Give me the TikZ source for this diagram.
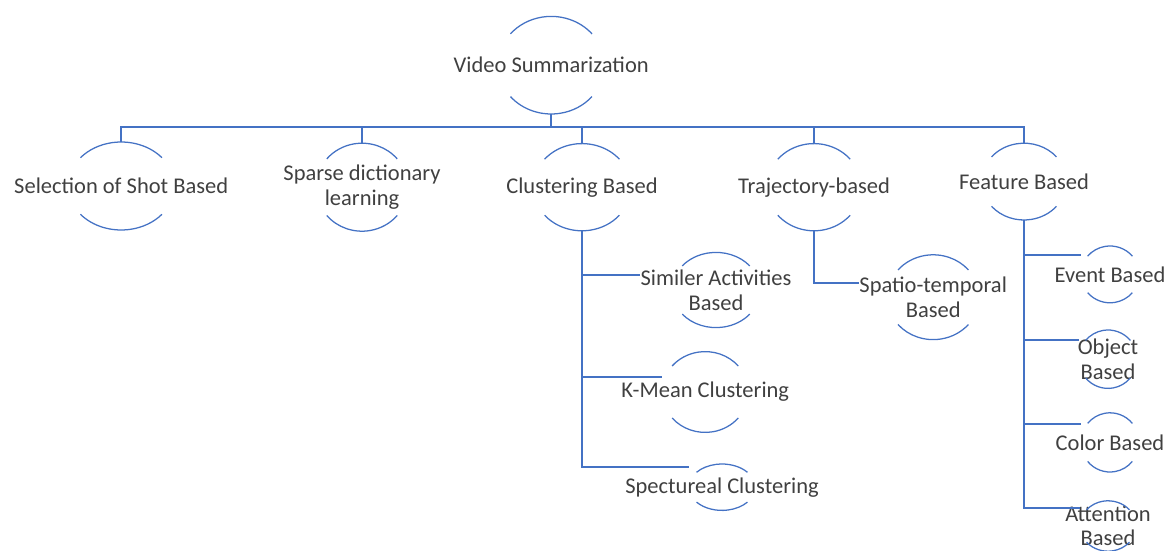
\documentclass[tikz,border=0pt]{standalone}
\usepackage{fontspec}
\setmainfont{Carlito}
\usepackage{xcolor}
\usepackage{tikz}
\usetikzlibrary{calc}
\definecolor{linkblue}{HTML}{4472C4}
\definecolor{txtgray}{HTML}{404040}

\begin{document}
\begin{tikzpicture}[font=\fontsize{16}{17.5}\selectfont,
  ring/.style 2 args={shape=rectangle, inner sep=0pt, outer sep=0pt, minimum width=2*#1cm, minimum height=2*#2cm},
  every label/.style={text=txtgray, align=center, inner sep=0pt},
  link/.style={linkblue, line width=1.3pt},
  arcline/.style={linkblue, line width=0.9pt}]
  \useasboundingbox (0,0) rectangle (29.125,-13.775);

  % top level
  \node[ring={1.33}{1.22}, label={center:Video Summarization}] (vs) at (13.78,-1.63) {};
  \node[ring={1.33}{1.1}, label={center:Selection of Shot Based}] (shot) at (3.03,-4.65) {};
  \node[ring={1.15}{1.1}, label={center:Sparse dictionary\\learning}] (sparse) at (9.05,-4.68) {};
  \node[ring={1.22}{1.09}, label={center:Clustering Based}] (clust) at (14.55,-4.68) {};
  \node[ring={1.18}{1.09}, label={center:Trajectory-based}] (traj) at (20.35,-4.68) {};
  \node[ring={1.06}{0.96}, label={center:Feature Based}] (feat) at (25.6,-4.54) {};

  % second level
  \node[ring={1.1}{0.94}, label={[name=simactt]center:Similer Activities\\Based}] (simact) at (17.9,-7.25) {};
  \node[ring={1.08}{1.01}, label={center:K-Mean Clustering}] (kmean) at (17.63,-9.8) {};
  \node[ring={0.83}{0.58}, label={center:Spectureal Clustering}] (spect) at (18.05,-12.18) {};
  \node[ring={1.15}{1.06}, label={[name=spatiot]center:Spatio-temporal\\Based}] (spatio) at (23.33,-7.43) {};
  \node[ring={0.73}{0.71}, label={center:Event Based}] (event) at (27.75,-6.86) {};
  \node[ring={0.73}{0.73}, label={center:Object\\Based}] (object) at (27.7,-8.98) {};
  \node[ring={0.73}{0.74}, label={center:Color Based}] (colorb) at (27.75,-11.06) {};
  \node[ring={0.7}{0.63}, label={center:Attention\\Based}] (attn) at (27.7,-13.15) {};

  % open rings
  \foreach \nd in {vs,shot,sparse,clust,traj,feat,simact,kmean,spect,spatio,event,object,colorb,attn}
    \draw[arcline] let \p1=($(\nd.north east)-(\nd.center)$) in
      ($(\nd.center)+(40:\x1 and \y1)$) arc[start angle=40, end angle=140, x radius=\x1, y radius=\y1]
      ($(\nd.center)+(220:\x1 and \y1)$) arc[start angle=220, end angle=320, x radius=\x1, y radius=\y1];

  % connectors
  \draw[link] (vs.south) -- ++(0,-0.33) coordinate (bus);
  \foreach \c in {shot,sparse,clust,traj,feat}
    \draw[link] (bus) -| (\c.north);
  \foreach \c in {simactt.169, kmean.161, spect.149}
    \draw[link] (clust.south) |- (\c);
  \draw[link] (traj.south) |- (spatiot.169);
  \foreach \c/\a in {event/146, object/147, colorb/148, attn/147}
    \draw[link] (feat.south) |- (\c.\a);
\end{tikzpicture}
\end{document}
